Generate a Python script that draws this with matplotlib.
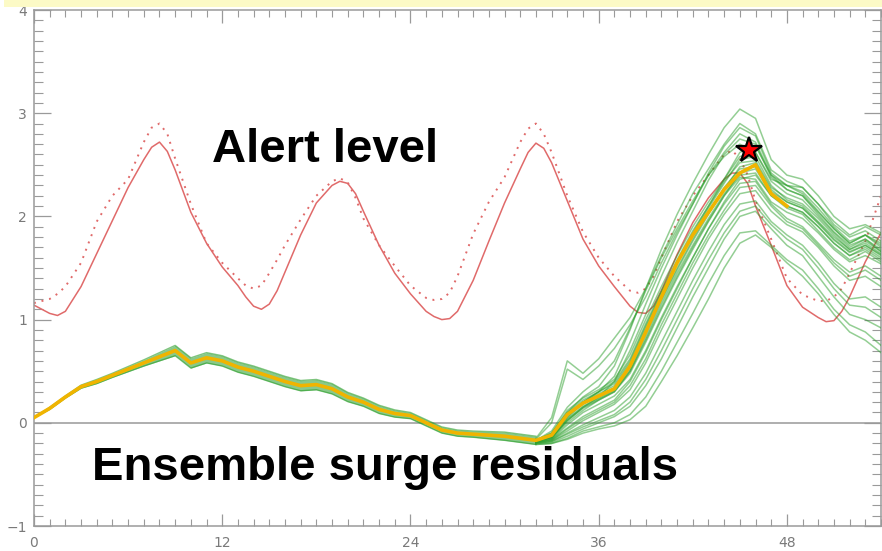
import numpy as np
import matplotlib
matplotlib.use("Agg")
import matplotlib.pyplot as plt
from matplotlib.patches import Rectangle

# ---------------- data ----------------
tide_hours = [0, 1, 1.5, 2, 3, 4, 5, 6, 7, 7.5, 8, 8.5, 9, 10, 11, 12, 13, 13.5, 14, 14.5,
              15, 15.5, 16, 17, 18, 19, 19.5, 20, 20.5, 21, 22, 23, 24, 25, 25.5, 26, 26.5,
              27, 28, 29, 30, 31, 31.5, 32, 32.5, 33, 34, 35, 36, 37, 38, 38.5, 39, 39.5,
              40, 41, 42, 43, 44, 44.5, 45, 45.5, 46, 47, 48, 49, 50, 50.5, 51, 51.5, 52,
              53, 54]
tide_alert_solid = [1.14, 1.06, 1.04, 1.08, 1.32, 1.64, 1.96, 2.28, 2.55, 2.67, 2.72, 2.63,
                    2.45, 2.04, 1.74, 1.51, 1.33, 1.22, 1.13, 1.10, 1.15, 1.28, 1.46, 1.82,
                    2.13, 2.30, 2.34, 2.32, 2.22, 2.05, 1.72, 1.45, 1.25, 1.08, 1.03, 1.00,
                    1.01, 1.08, 1.38, 1.76, 2.13, 2.46, 2.62, 2.71, 2.66, 2.52, 2.15, 1.78,
                    1.52, 1.32, 1.13, 1.07, 1.06, 1.13, 1.28, 1.63, 1.94, 2.18, 2.36, 2.42,
                    2.42, 2.32, 2.10, 1.72, 1.33, 1.12, 1.02, 0.98, 0.99, 1.08, 1.22, 1.56,
                    1.84]
tide_alert_dotted = [1.16, 1.20, 1.25, 1.32, 1.55, 1.95, 2.20, 2.36, 2.72, 2.86, 2.90, 2.80,
                     2.56, 2.12, 1.74, 1.55, 1.40, 1.33, 1.30, 1.33, 1.45, 1.58, 1.72, 1.97,
                     2.20, 2.34, 2.37, 2.33, 2.18, 1.98, 1.72, 1.52, 1.33, 1.21, 1.19, 1.20,
                     1.26, 1.42, 1.83, 2.14, 2.38, 2.72, 2.85, 2.90, 2.80, 2.62, 2.20, 1.85,
                     1.60, 1.42, 1.28, 1.26, 1.30, 1.42, 1.60, 1.95, 2.20, 2.40, 2.60, 2.64,
                     2.56, 2.40, 2.15, 1.78, 1.40, 1.24, 1.18, 1.18, 1.22, 1.30, 1.45, 1.76,
                     2.20]

hours_early = list(range(0, 33))
ens_early = [0.05, 0.14, 0.25, 0.35, 0.40, 0.46, 0.52, 0.58, 0.64, 0.70,
             0.58, 0.63, 0.60, 0.54, 0.50, 0.45, 0.40, 0.36, 0.37, 0.33,
             0.25, 0.20, 0.13, 0.09, 0.07, 0.00, -0.07, -0.10, -0.11, -0.12,
             -0.13, -0.15, -0.17]
early_spread = [0.00, 0.01, 0.01, 0.015, 0.02, 0.02, 0.025, 0.03, 0.04, 0.05,
                0.05, 0.05, 0.05, 0.05, 0.05, 0.05, 0.05, 0.05, 0.05, 0.05,
                0.045, 0.04, 0.04, 0.035, 0.03, 0.03, 0.03, 0.03, 0.03, 0.035,
                0.04, 0.04, 0.04]

hours_late = list(range(32, 55))
members_late = [
    [-0.17, -0.10, 0.10, 0.25, 0.35, 0.55, 0.90, 1.30, 1.68, 2.02, 2.32, 2.60, 2.86, 3.04, 2.95, 2.55, 2.40, 2.36, 2.20, 2.00, 1.88, 1.92, 1.84],
    [-0.15, 0.05, 0.60, 0.48, 0.62, 0.82, 1.02, 1.30, 1.62, 1.92, 2.22, 2.46, 2.70, 2.90, 2.80, 2.45, 2.34, 2.28, 2.12, 1.92, 1.80, 1.86, 1.76],
    [-0.16, 0.00, 0.52, 0.42, 0.55, 0.72, 0.95, 1.22, 1.55, 1.85, 2.12, 2.40, 2.62, 2.80, 2.72, 2.40, 2.30, 2.22, 2.05, 1.88, 1.74, 1.82, 1.70],
    [-0.17, -0.12, 0.05, 0.20, 0.30, 0.45, 0.78, 1.15, 1.50, 1.82, 2.12, 2.42, 2.68, 2.86, 2.78, 2.42, 2.30, 2.24, 2.08, 1.90, 1.76, 1.82, 1.72],
    [-0.18, -0.14, 0.02, 0.15, 0.25, 0.40, 0.70, 1.05, 1.42, 1.75, 2.05, 2.35, 2.60, 2.75, 2.70, 2.38, 2.26, 2.20, 2.02, 1.85, 1.72, 1.78, 1.66],
    [-0.17, -0.08, 0.15, 0.30, 0.42, 0.60, 0.92, 1.28, 1.60, 1.88, 2.15, 2.40, 2.58, 2.70, 2.62, 2.36, 2.30, 2.28, 2.12, 1.95, 1.82, 1.90, 1.82],
    [-0.17, -0.12, 0.08, 0.20, 0.28, 0.36, 0.58, 0.92, 1.25, 1.55, 1.82, 2.08, 2.32, 2.55, 2.58, 2.30, 2.16, 2.10, 1.95, 1.80, 1.68, 1.74, 1.64],
    [-0.18, -0.14, 0.04, 0.16, 0.24, 0.32, 0.52, 0.85, 1.18, 1.48, 1.76, 2.02, 2.26, 2.48, 2.52, 2.26, 2.14, 2.08, 1.94, 1.78, 1.66, 1.72, 1.62],
    [-0.17, -0.10, 0.12, 0.24, 0.32, 0.42, 0.66, 1.00, 1.32, 1.62, 1.90, 2.14, 2.36, 2.58, 2.62, 2.34, 2.22, 2.16, 2.00, 1.84, 1.70, 1.78, 1.68],
    [-0.18, -0.15, 0.00, 0.12, 0.22, 0.30, 0.48, 0.78, 1.10, 1.40, 1.68, 1.95, 2.20, 2.42, 2.46, 2.22, 2.10, 2.04, 1.90, 1.74, 1.62, 1.70, 1.60],
    [-0.19, -0.16, -0.02, 0.10, 0.18, 0.26, 0.42, 0.70, 1.02, 1.32, 1.60, 1.88, 2.14, 2.36, 2.40, 2.20, 2.08, 2.02, 1.86, 1.70, 1.58, 1.66, 1.56],
    [-0.17, -0.11, 0.10, 0.22, 0.30, 0.40, 0.62, 0.96, 1.28, 1.58, 1.86, 2.10, 2.34, 2.52, 2.54, 2.28, 2.18, 2.12, 1.98, 1.82, 1.68, 1.76, 1.66],
    [-0.18, -0.13, 0.06, 0.18, 0.26, 0.34, 0.55, 0.88, 1.20, 1.50, 1.78, 2.04, 2.28, 2.46, 2.48, 2.24, 2.14, 2.08, 1.93, 1.77, 1.65, 1.72, 1.63],
    [-0.18, -0.15, 0.02, 0.14, 0.22, 0.30, 0.50, 0.82, 1.15, 1.45, 1.72, 1.98, 2.22, 2.40, 2.42, 2.20, 2.10, 2.04, 1.90, 1.74, 1.62, 1.68, 1.58],
    [-0.17, -0.12, 0.08, 0.20, 0.30, 0.38, 0.60, 0.94, 1.26, 1.56, 1.84, 2.10, 2.36, 2.62, 2.68, 2.40, 2.26, 2.20, 2.04, 1.88, 1.74, 1.82, 1.74],
    [-0.18, -0.14, 0.03, 0.15, 0.23, 0.31, 0.50, 0.80, 1.12, 1.42, 1.70, 1.96, 2.20, 2.38, 2.36, 2.14, 2.04, 1.98, 1.84, 1.68, 1.56, 1.62, 1.54],
    [-0.19, -0.17, -0.08, 0.02, 0.10, 0.18, 0.32, 0.58, 0.90, 1.20, 1.50, 1.78, 2.02, 2.22, 2.25, 2.05, 1.92, 1.85, 1.70, 1.52, 1.38, 1.42, 1.32],
    [-0.20, -0.18, -0.10, -0.02, 0.05, 0.12, 0.25, 0.48, 0.78, 1.08, 1.38, 1.66, 1.92, 2.12, 2.15, 1.95, 1.82, 1.72, 1.55, 1.35, 1.20, 1.22, 1.12],
    [-0.20, -0.19, -0.13, -0.06, 0.00, 0.06, 0.16, 0.36, 0.62, 0.92, 1.22, 1.50, 1.78, 2.00, 2.05, 1.88, 1.72, 1.62, 1.42, 1.22, 1.05, 1.00, 0.92],
    [-0.21, -0.20, -0.15, -0.08, -0.04, 0.00, 0.08, 0.25, 0.50, 0.78, 1.06, 1.35, 1.62, 1.84, 1.86, 1.72, 1.58, 1.48, 1.30, 1.10, 0.95, 0.88, 0.75],
    [-0.21, -0.20, -0.16, -0.10, -0.06, -0.03, 0.03, 0.16, 0.40, 0.65, 0.92, 1.20, 1.50, 1.74, 1.82, 1.70, 1.55, 1.42, 1.25, 1.05, 0.88, 0.80, 0.68],
    [-0.19, -0.17, -0.06, 0.04, 0.12, 0.20, 0.36, 0.62, 0.95, 1.25, 1.55, 1.82, 2.06, 2.28, 2.30, 2.10, 1.95, 1.88, 1.72, 1.55, 1.42, 1.48, 1.38],
    [-0.19, -0.16, -0.05, 0.06, 0.14, 0.22, 0.40, 0.68, 1.00, 1.30, 1.60, 1.88, 2.12, 2.32, 2.34, 2.12, 1.98, 1.90, 1.74, 1.58, 1.46, 1.52, 1.42],
    [-0.20, -0.18, -0.11, -0.04, 0.02, 0.08, 0.20, 0.42, 0.70, 1.00, 1.30, 1.58, 1.84, 2.05, 2.10, 1.92, 1.78, 1.68, 1.50, 1.30, 1.14, 1.12, 1.02],
]

hours_mean_late = list(range(32, 49))
ens_mean_late = [-0.17, -0.12, 0.08, 0.19, 0.26, 0.33, 0.55, 0.88, 1.22, 1.55, 1.82,
                 2.04, 2.26, 2.42, 2.50, 2.22, 2.10]

star_hour = [45.6]
star_value = [2.64]

x_ticks = [0, 12, 24, 36, 48]
y_ticks = [-1, 0, 1, 2, 3, 4]
text_alert = "Alert level"
text_ens = "Ensemble surge residuals"

# ---------------- figure ----------------
W, H = 882, 551
fig = plt.figure(figsize=(W / 100, H / 100), dpi=100)
fig.patches.append(Rectangle((0.005, 1 - 7 / H), 0.995, 7 / H, transform=fig.transFigure,
                             facecolor="#fcfac6", edgecolor="none", zorder=0))

ax = fig.add_axes([34 / W, 25 / H, (881 - 34) / W, (526 - 10) / H])
ax.set_xlim(0, 54)
ax.set_ylim(-1, 4)

grey = "#9a9a9a"
green = (0.16, 0.62, 0.16)
red = "#e06a6a"

# zero line
ax.axhline(0, color="#a8a8a8", lw=1.3, zorder=1)

# alert levels
ax.plot(tide_hours, tide_alert_solid, color=red, lw=1.1, zorder=2,
        solid_joinstyle="round")
ax.plot(tide_hours, tide_alert_dotted, color=red, lw=1.4, ls=(0, (1, 3)), zorder=2)

# early ensemble band
e = np.array(ens_early)
s = np.array(early_spread)
ax.fill_between(hours_early, e - s, e + s, color=green, alpha=0.55, lw=0, zorder=3)
for k in range(3):
    ax.plot(hours_early, e + (k - 1) * s, color=green, alpha=0.6, lw=1.0, zorder=3,
            solid_joinstyle="round")

# late ensemble members
for m in members_late:
    ax.plot(hours_late, m, color=green, alpha=0.5, lw=1.1, zorder=3,
            solid_joinstyle="round")

# mean
ax.plot(hours_early + hours_mean_late[1:], ens_early + ens_mean_late[1:],
        color="#f0b400", lw=2.6, zorder=4, solid_joinstyle="round")

# star
ax.plot(star_hour, star_value, marker="*", ms=19, mfc="red", mec="black", mew=1.6,
        ls="none", zorder=6)

# texts
ax.text(11.35, 2.53, text_alert, fontsize=34, fontweight="bold", family="Liberation Sans",
        color="black", ha="left", va="baseline", zorder=7)
ax.text(3.7, -0.55, text_ens, fontsize=34, fontweight="bold", family="Liberation Sans",
        color="black", ha="left", va="baseline", zorder=7)

# axes styling
for sp in ax.spines.values():
    sp.set_color(grey)
    sp.set_linewidth(1.1)
ax.set_xticks(x_ticks)
ax.set_yticks(y_ticks)
ax.set_xticks(np.arange(0, 55, 1), minor=True)
ax.set_yticks(np.arange(-1, 4.01, 0.1), minor=True)
ax.set_xticklabels([str(v) for v in x_ticks])
ax.set_yticklabels([str(v).replace("-", "\u2212") for v in y_ticks])
ax.tick_params(axis="x", which="major", direction="in", length=9, width=0.9, color=grey,
               top=True, bottom=True, labelsize=10, labelcolor="#7a7a7a", pad=7)
ax.tick_params(axis="x", which="minor", direction="in", length=5, width=0.8, color=grey,
               top=True, bottom=True)
ax.tick_params(axis="y", which="major", direction="in", length=12, width=0.9, color=grey,
               left=True, right=True, labelsize=10, labelcolor="#7a7a7a", pad=5)
ax.tick_params(axis="y", which="minor", direction="in", length=6.5, width=0.8, color=grey,
               left=True, right=True)

fig.savefig("out.png", dpi=100)
